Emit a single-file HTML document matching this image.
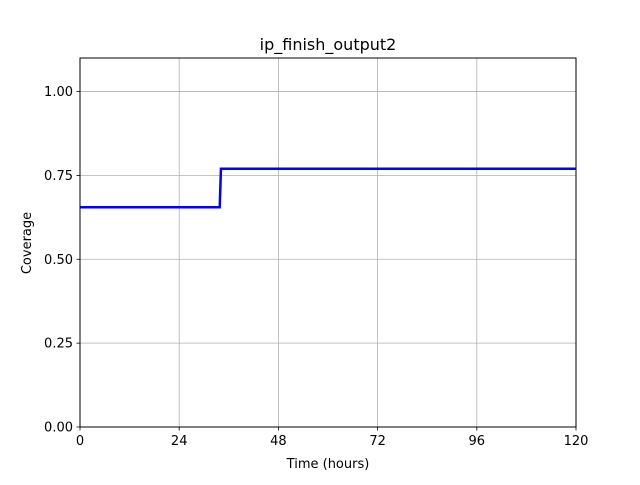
<!DOCTYPE html>
<html><head><meta charset="utf-8"><style>
body{margin:0;background:#fff;font-family:"Liberation Sans","DejaVu Sans",sans-serif;}
svg text{font-family:"DejaVu Sans","Liberation Sans",sans-serif;}
</style></head><body>
<svg id="chart" width="640" height="480" viewBox="0 0 640 480" xmlns="http://www.w3.org/2000/svg">
<rect width="640" height="480" fill="#fff"/>
<g id="grid"></g>
<g id="series"></g>
<rect x="80" y="58" width="496" height="369" fill="none" stroke="#000" stroke-width="1"/>
<g id="ticks"></g>
<text x="328" y="50" font-size="16" text-anchor="middle">ip_finish_output2</text>
<text x="328" y="468" font-size="13" text-anchor="middle">Time (hours)</text>
<text x="31" y="243" font-size="13" text-anchor="middle" transform="rotate(-90 31 243)">Coverage</text>
</svg>
<script>
const xTicks=[0,24,48,72,96,120];
const yTicks=[0,0.25,0.5,0.75,1.0];
const yTickLabels=["0.00","0.25","0.50","0.75","1.00"];
const timeHours=[0,33.8,34.1,120];
const coverage=[0.655,0.655,0.77,0.77];
const L=80,R=576,T=58,B=427,XMAX=120,YMAX=1.1;
const xs=v=>L+(v/XMAX)*(R-L);
const ys=v=>B-(v/YMAX)*(B-T);
const NS="http://www.w3.org/2000/svg";
const grid=document.getElementById('grid'),ticks=document.getElementById('ticks'),series=document.getElementById('series');
function mk(tag,attrs,parent){const e=document.createElementNS(NS,tag);for(const k in attrs)e.setAttribute(k,attrs[k]);parent.appendChild(e);return e;}
xTicks.forEach(v=>{
 const x=xs(v);
 const g=mk('line',{x1:x,x2:x,y1:T,y2:B,stroke:'#b0b0b0','stroke-width':0.8},grid);
 
 
 const t=mk('line',{x1:x,x2:x,y1:B,y2:B+3.5,stroke:'#000','stroke-width':0.8},ticks);
 
 
 const l=mk('text',{x:x,y:B+18,'font-size':13,'text-anchor':'middle'},ticks);
 l.textContent=v;
 
 
});
yTicks.forEach((v,i)=>{
 const y=ys(v);
 const g=mk('line',{x1:L,x2:R,y1:y,y2:y,stroke:'#b0b0b0','stroke-width':0.8},grid);
 
 
 const t=mk('line',{x1:L-3.5,x2:L,y1:y,y2:y,stroke:'#000','stroke-width':0.8},ticks);
 
 
 const l=mk('text',{x:L-7,y:y+4.5,'font-size':13,'text-anchor':'end'},ticks);
 l.textContent=yTickLabels[i];
 
 
});
const pts=timeHours.map((t,i)=>xs(t)+','+ys(coverage[i])).join(' ');
const line=mk('polyline',{points:pts,fill:'none',stroke:'#0000ff','stroke-width':2.5},series);


</script>
</body></html>
